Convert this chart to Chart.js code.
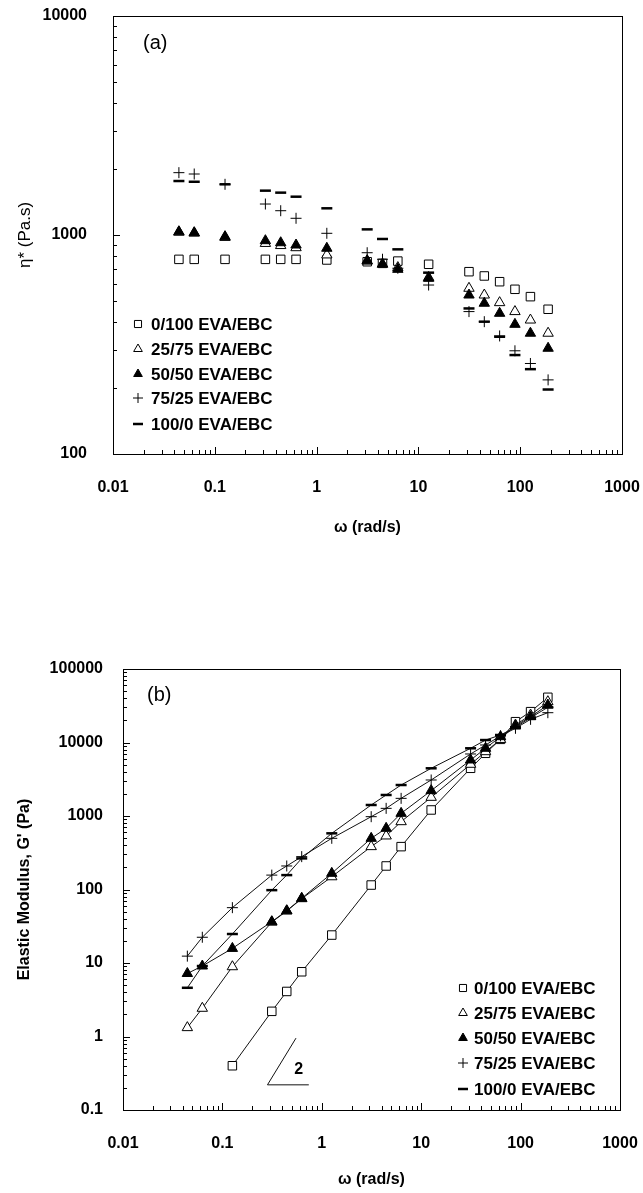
<!DOCTYPE html>
<html><head><meta charset="utf-8">
<script src="https://cdn.jsdelivr.net/npm/chart.js@4.4.1/dist/chart.umd.min.js"></script>
<style>
html,body{margin:0;padding:0;background:#fff;}
#wrap{position:relative;width:643px;height:1193px;overflow:hidden;}
.c{position:absolute;left:0;}
</style></head><body>
<div id="wrap">
<canvas id="ca" class="c" style="top:0" width="643" height="545"></canvas>
<canvas id="cb" class="c" style="top:545px" width="643" height="648"></canvas>
</div>
<script>
// ---------- data ----------
const omega = [0.0444, 0.0628, 0.126, 0.314, 0.444, 0.628, 1.26, 3.14, 4.44, 6.28, 12.6, 31.4, 44.4, 62.8, 88.8, 126, 188];
const seriesLabels = ['0/100 EVA/EBC', '25/75 EVA/EBC', '50/50 EVA/EBC', '75/25 EVA/EBC', '100/0 EVA/EBC'];

// (a) complex viscosity, Pa.s
const eta0_100  = [774, 774, 774, 774, 774, 774, 769, 755, 742, 760, 735, 680, 650, 612, 565, 523, 458];
const eta25_75  = [1030, 1020, 975, 915, 895, 875, 811, 760, 735, 710, 640, 571, 532, 491, 447, 409, 356];
const eta50_50  = [1035, 1025, 983, 942, 922, 900, 870, 764, 737, 697, 634, 532, 488, 439, 391, 356, 304];
const eta75_25  = [1926, 1899, 1704, 1385, 1291, 1192, 1018, 830, 775, 705, 591, 447, 402, 346, 296, 259, 218];
const eta100_0  = [1764, 1750, 1704, 1594, 1561, 1496, 1324, 1061, 959, 860, 673, 462, 402, 343, 283, 244, 197];

// (b) elastic modulus G', Pa
const G0_100  = [null, null, 0.4, 2.2, 4.1, 7.6, 24, 115, 209, 383, 1208, 4456, 7130, 11040, 19190, 26280, 41200];
const G25_75  = [1.32, 2.42, 8.9, 36, 51, 75, 149, 383, 535, 837, 1795, 5050, 7500, 11000, 17300, 23660, 35900];
const G50_50  = [7.2, 9.1, 15.8, 36.5, 51.5, 75.9, 166, 497, 680, 1087, 2213, 5780, 8340, 12000, 16750, 22440, 32370];
const G75_25  = [12.4, 22.4, 56.6, 157, 209, 280, 497, 979, 1271, 1738, 3090, 6980, 9250, 12300, 15600, 20660, 25440];
const G100_0  = [4.6, 9.1, 24.8, 98, 157, 265, 581, 1412, 1932, 2640, 4456, 8340, 10800, 12650, 16100, 21730, 30100];

// slope-2 guide triangle in (b)
const slopeX = [0.74, 0.284, 0.55];
const slopeY = [0.22, 0.22, 0.95];
const slopeLabel = '2';
const slopeLabelX = 0.585, slopeLabelY = 0.36;

// tick labels
const xTickValues = [0.01, 0.1, 1, 10, 100, 1000];
const yTickValuesA = [100, 1000, 10000];
const yTickValuesB = [0.1, 1, 10, 100, 1000, 10000, 100000];

// ---------- helpers ----------
const FONT = '"Liberation Sans", Arial, sans-serif';
const styles = [
  {pointStyle: 'rect', radius: 6, fill: '#fff', bw: 1},
  {pointStyle: 'triangle', radius: 6, fill: '#fff', bw: 1},
  {pointStyle: 'triangle', radius: 6, fill: '#000', bw: 1},
  {pointStyle: 'cross', radius: 5.5, fill: '#000', bw: 1},
  {pointStyle: 'line', radius: 5.5, fill: '#000', bw: 2.5}
];
const toXY = (ys) => omega.map((x, i) => ({x, y: ys[i]})).filter(p => p.y !== null);

function makeDatasets(arrays, showLine) {
  return arrays.map((arr, i) => ({
    label: seriesLabels[i],
    data: toXY(arr),
    showLine: showLine,
    borderColor: '#111',
    borderWidth: 1,
    pointStyle: styles[i].pointStyle,
    pointRadius: styles[i].radius,
    pointBackgroundColor: styles[i].fill,
    pointBorderColor: '#000',
    pointBorderWidth: styles[i].bw,
    order: 4 - i
  }));
}

function innerTicks(chart) {
  const {ctx, chartArea: {left, right, top, bottom}, scales: {x, y}} = chart;
  ctx.save();
  ctx.strokeStyle = '#000';
  ctx.lineWidth = 1;
  ctx.strokeRect(left + 0.5, top + 0.5, right - left, bottom - top);
  ctx.beginPath();
  for (let e = Math.round(Math.log10(x.min)); e < Math.round(Math.log10(x.max)); e++) {
    for (let m = 1; m <= 9; m++) {
      const px = Math.round(x.getPixelForValue(m * Math.pow(10, e))) + 0.5;
      const len = m === 1 ? 7 : 4;
      ctx.moveTo(px, bottom); ctx.lineTo(px, bottom - len);
    }
  }
  for (let e = Math.round(Math.log10(y.min)); e < Math.round(Math.log10(y.max)); e++) {
    for (let m = 1; m <= 9; m++) {
      const py = Math.round(y.getPixelForValue(m * Math.pow(10, e))) + 0.5;
      const len = m === 1 ? 7 : 4;
      ctx.moveTo(left, py); ctx.lineTo(left + len, py);
    }
  }
  ctx.stroke();
  ctx.restore();
}

function drawLegend(chart, mx, tx, rows) {
  const ctx = chart.ctx;
  ctx.save();
  for (let i = 0; i < 5; i++) {
    const ds = chart.data.datasets[i];
    ctx.fillStyle = styles[i].fill;
    ctx.strokeStyle = '#000';
    ctx.lineWidth = styles[i].bw;
    Chart.helpers.drawPoint(ctx, {pointStyle: styles[i].pointStyle, radius: 5, rotation: 0, borderWidth: styles[i].bw}, mx, rows[i]);
    ctx.fillStyle = '#000';
    ctx.font = 'bold 17px ' + FONT;
    ctx.textBaseline = 'middle';
    ctx.textAlign = 'left';
    ctx.fillText(ds.label, tx, rows[i] + 1);
  }
  ctx.restore();
}

function scaleOpts(tickVals, min, max, titleText, titleFont, fitSize, tickPad, titlePad, horizontal) {
  return {
    type: 'logarithmic', min, max,
    afterBuildTicks: s => { s.ticks = tickVals.map(v => ({value: v})); },
    afterFit: s => {
      if (horizontal) { s.height = fitSize; s.paddingLeft = 0; s.paddingRight = 0; }
      else { s.width = fitSize; s.paddingTop = 0; s.paddingBottom = 0; }
    },
    grid: {display: false, drawTicks: false},
    border: {display: false},
    ticks: {
      color: '#000', padding: tickPad, autoSkip: false, maxRotation: 0,
      font: {family: FONT, size: 16, weight: 'bold'},
      callback: v => String(v)
    },
    title: {display: true, text: titleText, color: '#000', font: titleFont, padding: titlePad}
  };
}

// ---------- chart (a) ----------
new Chart(document.getElementById('ca'), {
  type: 'scatter',
  data: {datasets: makeDatasets([eta0_100, eta25_75, eta50_50, eta75_25, eta100_0], false)},
  options: {
    responsive: false, animation: false, devicePixelRatio: 1,
    layout: {padding: {top: 16, right: 21, bottom: 0, left: 0}},
    plugins: {legend: {display: false}, tooltip: {enabled: false}},
    scales: {
      x: scaleOpts(xTickValues, 0.01, 1000, 'ω (rad/s)', {family: FONT, size: 16, weight: 'bold'}, 91, 24, {top: 0, bottom: 8}, true),
      y: scaleOpts(yTickValuesA, 100, 10000, 'η* (Pa.s)', {family: FONT, size: 17, weight: 'normal'}, 113, 26, {top: 15, bottom: 0}, false)
    }
  },
  plugins: [{
    id: 'decorA',
    beforeDatasetsDraw: c => innerTicks(c),
    afterDatasetsDraw: c => {
      const ctx = c.ctx;
      ctx.save();
      ctx.fillStyle = '#000'; ctx.font = '20px ' + FONT;
      ctx.textBaseline = 'middle'; ctx.textAlign = 'left';
      ctx.fillText('(a)', 143, 43);
      ctx.restore();
      drawLegend(c, 138, 151, [324, 349, 374, 398, 424]);
    }
  }]
});

// ---------- chart (b) ----------
const dsB = makeDatasets([G0_100, G25_75, G50_50, G75_25, G100_0], true);
dsB.push({
  label: 'slope', data: slopeX.map((x, i) => ({x, y: slopeY[i]})), showLine: true,
  borderColor: '#111', borderWidth: 1, pointRadius: 0, order: 10
});
new Chart(document.getElementById('cb'), {
  type: 'scatter',
  data: {datasets: dsB},
  options: {
    responsive: false, animation: false, devicePixelRatio: 1,
    layout: {padding: {top: 124, right: 23, bottom: 0, left: 0}},
    plugins: {legend: {display: false}, tooltip: {enabled: false}},
    scales: {
      x: scaleOpts(xTickValues, 0.01, 1000, 'ω (rad/s)', {family: FONT, size: 16, weight: 'bold'}, 83, 24, {top: 0, bottom: 4}, true),
      y: scaleOpts(yTickValuesB, 0.1, 100000, "Elastic Modulus, G' (Pa)", {family: FONT, size: 16, weight: 'bold'}, 123, 20, {top: 15, bottom: 0}, false)
    }
  },
  plugins: [{
    id: 'decorB',
    beforeDatasetsDraw: c => innerTicks(c),
    afterDatasetsDraw: c => {
      const ctx = c.ctx;
      ctx.save();
      ctx.fillStyle = '#000'; ctx.font = '20px ' + FONT;
      ctx.textBaseline = 'middle'; ctx.textAlign = 'left';
      ctx.fillText('(b)', 147, 150);
      ctx.font = 'bold 16px ' + FONT; ctx.textAlign = 'center';
      ctx.fillText(slopeLabel, c.scales.x.getPixelForValue(slopeLabelX), c.scales.y.getPixelForValue(slopeLabelY));
      ctx.restore();
      drawLegend(c, 463, 474, [443, 468, 493, 518, 544]);
    }
  }]
});
</script>
</body></html>
